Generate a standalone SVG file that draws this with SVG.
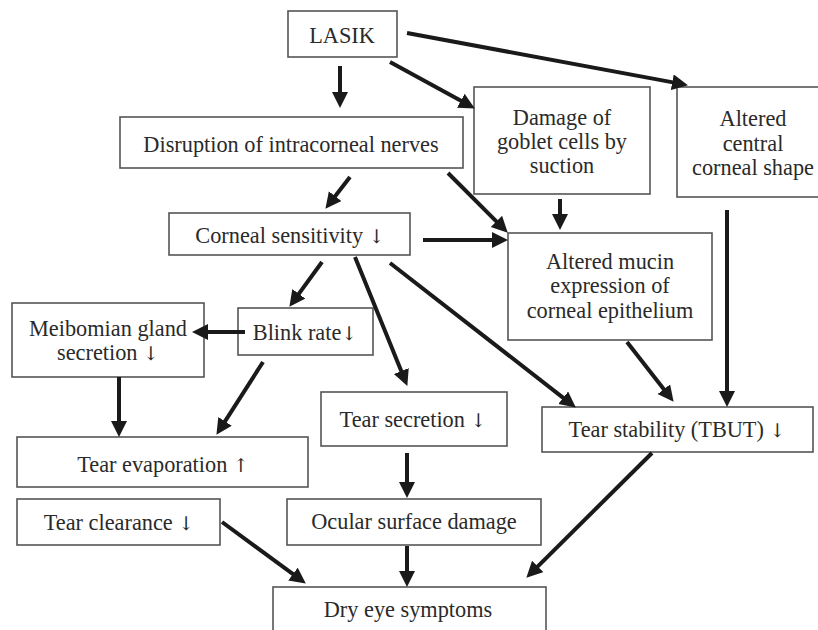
<svg xmlns="http://www.w3.org/2000/svg" width="818" height="630" viewBox="0 0 818 630">
<style>
.box{fill:#fff;stroke:#555;stroke-width:1.6}
.t{font-family:"Liberation Serif","DejaVu Serif",serif;font-size:22.3px;fill:#2a2a2a;text-anchor:middle}
.a{font-family:"DejaVu Serif","Liberation Serif",serif;font-size:19px;fill:#2a2a2a}
.c{stroke:#1a1a1a;stroke-width:4;fill:none;marker-end:url(#ah)}
</style>
<defs>
<marker id="ah" markerUnits="userSpaceOnUse" markerWidth="18" markerHeight="18" refX="9" refY="8" orient="auto">
<path d="M0,0 L16,8 L0,16 z" fill="#1a1a1a"/>
</marker>
</defs>
<rect width="818" height="630" fill="#fff"/>
<g font-family="Liberation Serif, DejaVu Serif, serif">
<g id="lasik"><rect class="box" x="288" y="11" width="109" height="46"/><text class="t" x="342" y="43">LASIK</text></g>
<g id="disruption"><rect class="box" x="120" y="117" width="343" height="51"/><text class="t" x="291" y="152">Disruption of intracorneal nerves</text></g>
<g id="goblet"><rect class="box" x="474" y="87" width="176" height="107"/><text class="t" x="562" y="125">Damage of</text><text class="t" x="562" y="149">goblet cells by</text><text class="t" x="562" y="173">suction</text></g>
<g id="shape"><rect class="box" x="677" y="87" width="160" height="110"/><text class="t" x="753" y="126">Altered</text><text class="t" x="753" y="151">central</text><text class="t" x="753" y="175">corneal shape</text></g>
<g id="sensitivity"><rect class="box" x="169" y="213" width="241" height="42"/><text class="t" x="290" y="243">Corneal sensitivity <tspan class="a">↓</tspan></text></g>
<g id="mucin"><rect class="box" x="508" y="233" width="204" height="107"/><text class="t" x="610" y="269">Altered mucin</text><text class="t" x="610" y="293">expression of</text><text class="t" x="610" y="318">corneal epithelium</text></g>
<g id="blink"><rect class="box" x="238" y="308" width="135" height="47"/><text class="t" x="305" y="340">Blink rate<tspan class="a">↓</tspan></text></g>
<g id="meibomian"><rect class="box" x="12" y="303" width="192" height="74"/><text class="t" x="108" y="336">Meibomian gland</text><text class="t" x="108" y="360">secretion <tspan class="a">↓</tspan></text></g>
<g id="secretion"><rect class="box" x="321" y="392" width="186" height="54"/><text class="t" x="413" y="427">Tear secretion <tspan class="a">↓</tspan></text></g>
<g id="stability"><rect class="box" x="542" y="407" width="271" height="45"/><text class="t" x="677" y="437">Tear stability (TBUT) <tspan class="a">↓</tspan></text></g>
<g id="evaporation"><rect class="box" x="17" y="437" width="291" height="50"/><text class="t" x="163" y="472">Tear evaporation <tspan class="a">↑</tspan></text></g>
<g id="clearance"><rect class="box" x="17" y="499" width="203" height="46"/><text class="t" x="119" y="530">Tear clearance <tspan class="a">↓</tspan></text></g>
<g id="ocular"><rect class="box" x="287" y="499" width="254" height="46"/><text class="t" x="414" y="529">Ocular surface damage</text></g>
<g id="dryeye"><rect class="box" x="273" y="587" width="273" height="60"/><text class="t" x="408" y="617">Dry eye symptoms</text></g>
</g>
<g id="connectors">
<line class="c" x1="340" y1="66" x2="340" y2="101"/>
<line class="c" x1="390" y1="62" x2="468.7" y2="105.1"/>
<line class="c" x1="407" y1="33" x2="681.1" y2="83.9"/>
<line class="c" x1="350" y1="177" x2="329.7" y2="203.3"/>
<line class="c" x1="448" y1="173" x2="502.8" y2="227.8"/>
<line class="c" x1="560" y1="199" x2="560" y2="223"/>
<line class="c" x1="423" y1="240" x2="501" y2="240"/>
<line class="c" x1="727" y1="210" x2="727" y2="400"/>
<line class="c" x1="322" y1="262" x2="293.5" y2="301.1"/>
<line class="c" x1="355" y1="257" x2="404.7" y2="379.4"/>
<line class="c" x1="390" y1="263" x2="570.3" y2="403.3"/>
<line class="c" x1="627" y1="342" x2="669.3" y2="396.3"/>
<line class="c" x1="245" y1="332" x2="199" y2="332"/>
<line class="c" x1="263" y1="362" x2="220.2" y2="428.9"/>
<line class="c" x1="119" y1="377" x2="119" y2="430"/>
<line class="c" x1="407" y1="453" x2="407" y2="491"/>
<line class="c" x1="407" y1="546" x2="407" y2="580"/>
<line class="c" x1="222" y1="522" x2="300.2" y2="579.4"/>
<line class="c" x1="652" y1="453" x2="531.3" y2="572.8"/>
</g>
</svg>
